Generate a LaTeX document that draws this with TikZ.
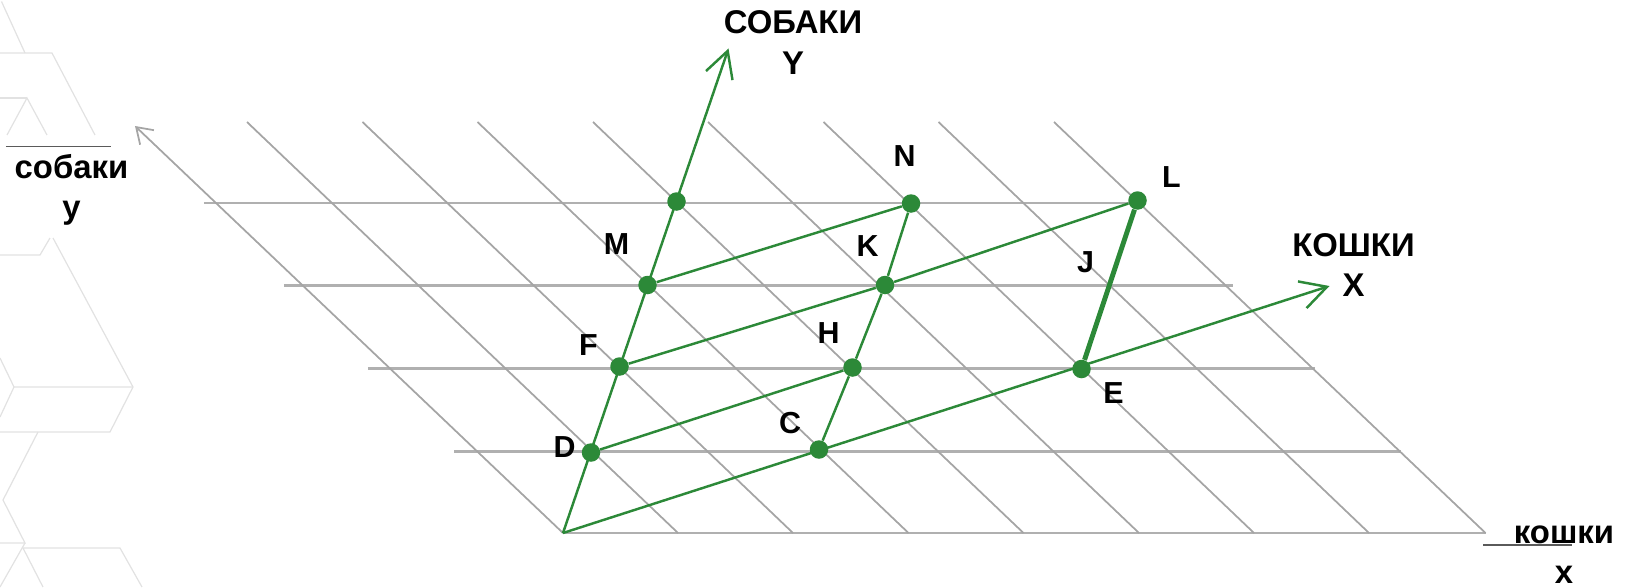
\documentclass[tikz,border=0pt]{standalone}
\usepackage{fontspec}
\setmainfont{Liberation Sans}
\usetikzlibrary{arrows.meta}
\definecolor{verde}{RGB}{44,137,56}
\definecolor{grigio}{RGB}{176,176,176}
\definecolor{grigiomedio}{RGB}{165,165,165}
\definecolor{grigiochiaro}{RGB}{226,226,226}
\definecolor{grigioscuro}{RGB}{90,90,90}

\begin{document}
\begin{tikzpicture}
    % Definizione stili
    \tikzset{punto/.style={circle, fill=verde, inner sep=0pt, minimum size=0.37cm}}
    \tikzstyle{lettera}=[font=\bfseries\fontsize{17.3}{20.8}\selectfont, inner sep=0pt]
    \tikzstyle{nomeasse}=[font=\bfseries\fontsize{18.7}{22.8}\selectfont, align=center, inner sep=0pt]
    \tikzstyle{orizzontale}=[grigio, line width=1.5pt]
    \tikzstyle{obliqua}=[grigiomedio, line width=1pt]
    \tikzstyle{linea}=[verde, line width=1.4pt]
    \tikzstyle{spessa}=[verde, line width=2.8pt]
    \tikzstyle{freccia}=[-{Straight Barb[length=0.52cm,width=0.56cm]}, verde, line width=1.4pt]
    \tikzstyle{frecciagrigia}=[-{Straight Barb[length=0.3cm,width=0.4cm]}, grigiomedio, line width=1pt]
    \tikzstyle{fondo}=[grigiochiaro, line width=0.7pt]
    \tikzstyle{segno}=[grigioscuro, line width=1pt]

    \useasboundingbox (-11.26,-1.08) rectangle (21.34,10.66);

    % Sfondo a sinistra
    \draw[fondo] (-11.23,10.63) -- (-10.76,9.60);
    \draw[fondo] (-11.26,9.60) -- (-10.22,9.60) -- (-9.36,7.96);
    \draw[fondo] (-11.26,8.70) -- (-10.72,8.70);
    \draw[fondo] (-11.12,7.96) -- (-10.72,8.70) -- (-10.32,7.96);
    \draw[fondo] (-11.26,5.56) -- (-10.46,5.56) -- (-10.26,5.90);
    \draw[fondo] (-10.20,5.90) -- (-8.60,2.92) -- (-9.06,2.02) -- (-11.26,2.02);
    \draw[fondo] (-11.26,3.50) -- (-10.98,2.92) -- (-8.60,2.92);
    \draw[fondo] (-10.98,2.92) -- (-11.26,2.32);
    \draw[fondo] (-10.50,2.02) -- (-11.20,0.66) -- (-10.76,-0.20) -- (-11.26,-0.20);
    \draw[fondo] (-10.76,-0.20) -- (-11.26,-1.08);
    \draw[fondo] (-10.40,-1.08) -- (-10.80,-0.30) -- (-8.86,-0.30) -- (-8.42,-1.08);

    % Griglia grigia
    \draw[orizzontale] (0,0) -- (18.46,0);
    \draw[orizzontale] (-2.18,1.63) -- (16.76,1.63);
    \draw[orizzontale] (-3.90,3.29) -- (15.04,3.29);
    \draw[orizzontale] (-5.58,4.95) -- (13.40,4.95);
    \draw[orizzontale] (-7.18,6.60) -- (11.54,6.60);

    \draw[obliqua] (-6.32,8.22) -- (2.30,0);
    \draw[obliqua] (-4.01,8.22) -- (4.60,0);
    \draw[obliqua] (-1.71,8.22) -- (6.91,0);
    \draw[obliqua] (0.60,8.22) -- (9.21,0);
    \draw[obliqua] (2.90,8.22) -- (11.52,0);
    \draw[obliqua] (5.21,8.22) -- (13.82,0);
    \draw[obliqua] (7.51,8.22) -- (16.12,0);
    \draw[obliqua] (9.82,8.22) -- (18.45,0);

    % Assi
    \coordinate (O) at (0,0);
    \coordinate (puntay) at (-8.56,8.14);
    \coordinate (puntaY) at (3.31,9.69);
    \coordinate (puntaX) at (15.33,4.94);
    \draw[frecciagrigia] (O) -- (puntay);

    \node[nomeasse] (sobakiY) at (4.60,9.81) {СОБАКИ\\Y};
    \node[nomeasse] (koshkiX) at (15.81,5.36) {КОШКИ\\X};
    \node[nomeasse] (sobakiy) at (-9.83,6.86) {собаки\\у};
    \node[nomeasse] (koshkix) at (20.02,-0.43) {кошки\\x};
    \draw[segno] (-11.14,7.73) -- (-9.04,7.73);
    \draw[segno] (18.40,-0.24) -- (20.18,-0.24);

    % Punti
    \node[punto] (T) at (2.27,6.63) {};
    \node[punto] (M) at (1.69,4.96) {};
    \node[punto] (F) at (1.13,3.33) {};
    \node[punto] (D) at (0.56,1.61) {};
    \node[punto] (N) at (6.96,6.59) {};
    \node[punto] (K) at (6.44,4.96) {};
    \node[punto] (H) at (5.79,3.31) {};
    \node[punto] (C) at (5.12,1.67) {};
    \node[punto] (L) at (11.49,6.65) {};
    \node[punto] (E) at (10.37,3.28) {};

    % Linee verdi
    \draw[freccia] (O) -- (puntaY);
    \draw[freccia] (O) -- (puntaX);
    \draw[linea] (D) -- (H);
    \draw[linea] (F) -- (K) -- (L);
    \draw[linea] (M) -- (N);
    \draw[linea] (C) -- (H) -- (K) -- (N);
    \draw[spessa] (E) -- (L);

    % Lettere
    \node[lettera] (lM) at (1.07,5.78) {M};
    \node[lettera] (lK) at (6.09,5.74) {K};
    \node[lettera] (lF) at (0.51,3.76) {F};
    \node[lettera] (lH) at (5.31,3.99) {H};
    \node[lettera] (lC) at (4.54,2.19) {C};
    \node[lettera] (lD) at (0.03,1.71) {D};
    \node[lettera] (lN) at (6.83,7.54) {N};
    \node[lettera] (lL) at (12.17,7.11) {L};
    \node[lettera] (lJ) at (10.45,5.41) {J};
    \node[lettera] (lE) at (11.01,2.79) {E};
\end{tikzpicture}
\end{document}
